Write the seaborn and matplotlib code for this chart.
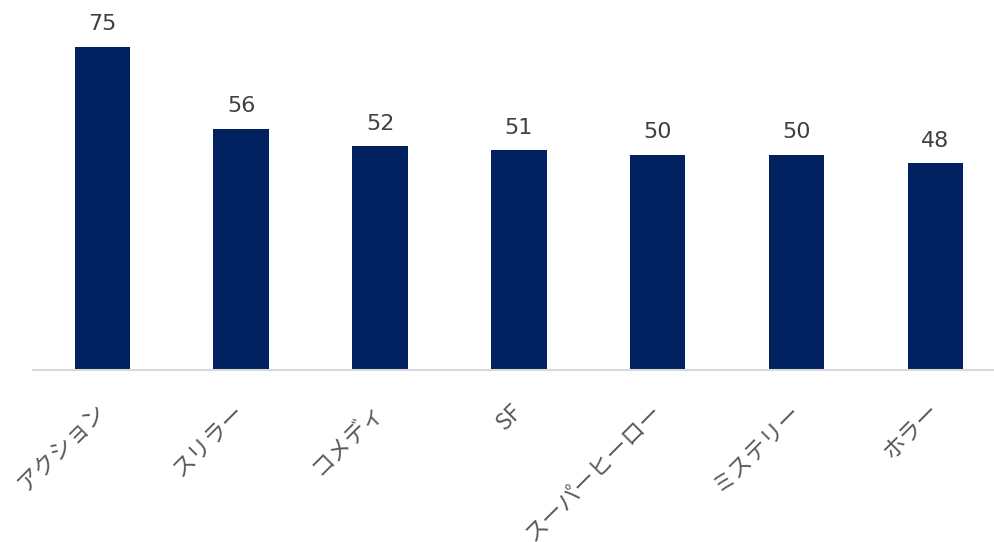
import matplotlib
matplotlib.use("Agg")
import matplotlib.pyplot as plt
import seaborn as sns
import pandas as pd

genres = ["アクション", "スリラー", "コメディ", "SF", "スーパーヒーロー", "ミステリー", "ホラー"]
scores = [75, 56, 52, 51, 50, 50, 48]

sns.set_theme(style="white")
plt.rcParams['font.family'] = ['Noto Sans CJK JP', 'DejaVu Sans']

df = pd.DataFrame({"genre": genres, "score": scores})

fig = plt.figure(figsize=(9.95, 5.42), dpi=100)
ax = fig.add_axes([33 / 995, 172 / 542, 962 / 995, 370 / 542])

sns.barplot(data=df, x="genre", y="score", color="#002060", width=0.4,
            saturation=1, linewidth=0, ax=ax)

ax.set_xlim(-0.5, 6.43)
ax.set_ylim(0, 85.9)

# value labels
for i, v in enumerate(scores):
    ax.annotate(str(v), (i, v), xytext=(0, 9), textcoords="offset points",
                ha="center", va="bottom", fontsize=16, color="#404040",
                family="DejaVu Sans")

for s in ["top", "right", "left"]:
    ax.spines[s].set_visible(False)
ax.spines["bottom"].set_color("#d9d9d9")
ax.spines["bottom"].set_linewidth(1.5)

ax.set_yticks([])
ax.set_xlabel("")
ax.set_ylabel("")
ax.tick_params(axis="x", length=0, pad=27)
for lbl in ax.get_xticklabels():
    lbl.set_rotation(45)
    lbl.set_ha("right")
    lbl.set_va("center")
    lbl.set_rotation_mode("anchor")
    lbl.set_fontsize(16.5)
    lbl.set_color("#595959")

fig.savefig("out.png", dpi=100)
